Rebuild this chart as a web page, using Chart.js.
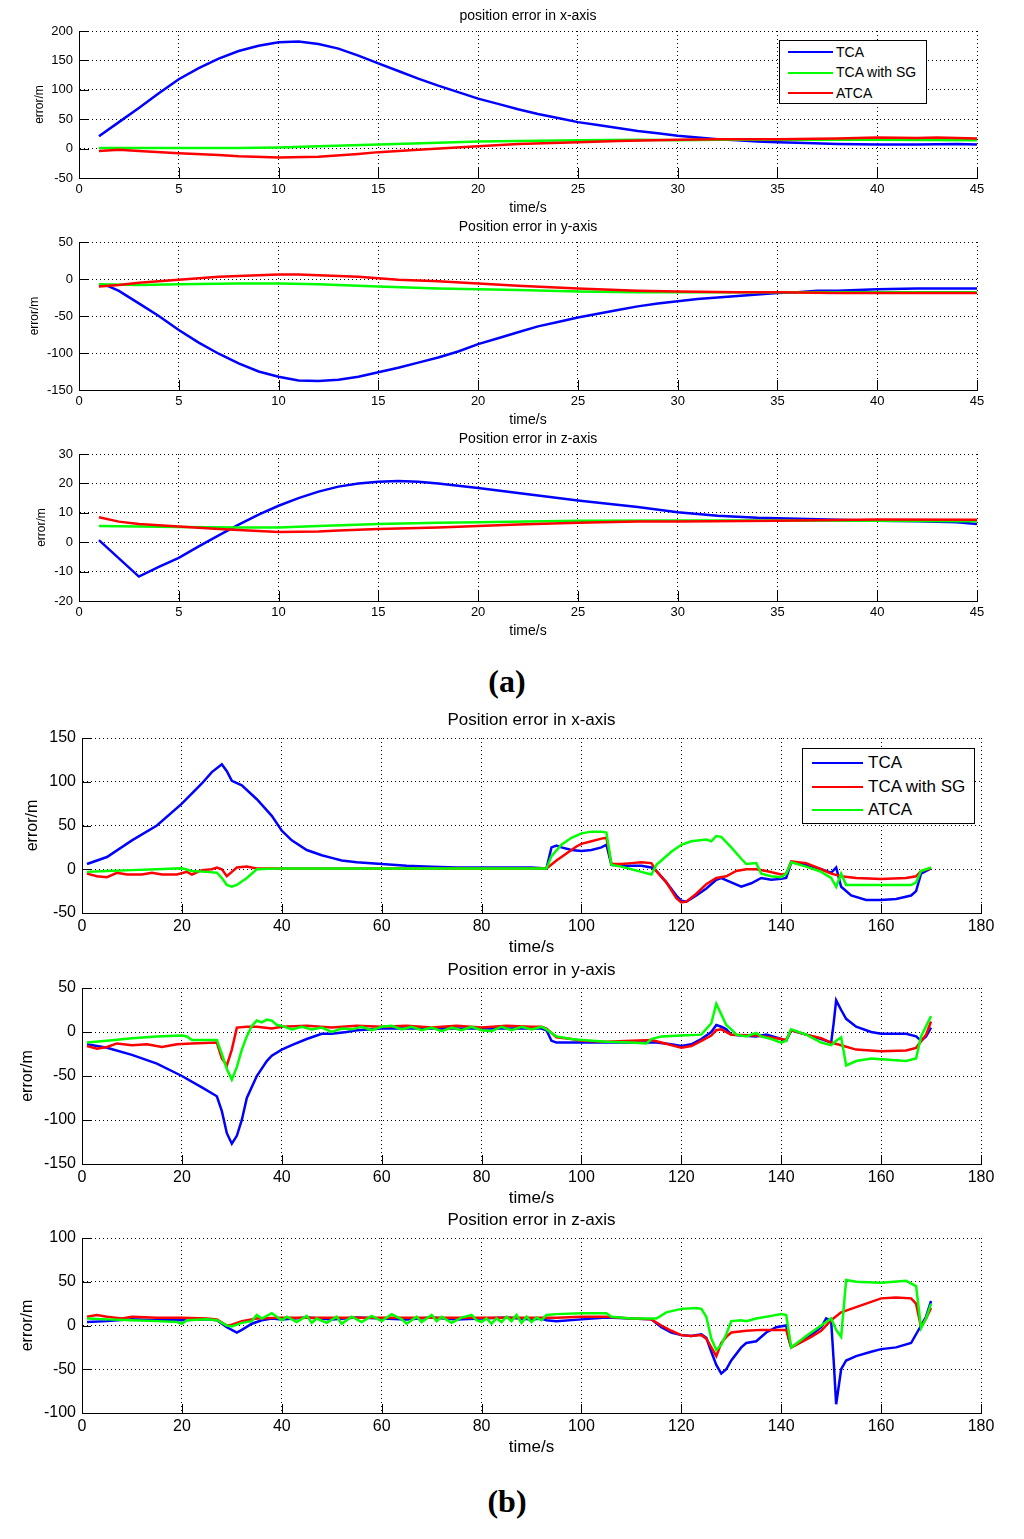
<!DOCTYPE html>
<html>
<head>
    <meta charset="utf-8">
    <title>Position error</title>
    <script src="https://cdn.jsdelivr.net/npm/chart.js@4.4.0/dist/chart.umd.min.js"></script>
    <style>
        body {
            margin: 0;
            width: 1024px;
            height: 1539px;
            position: relative;
            overflow: hidden;
            background: #fff;
            font-family: "Liberation Sans", Arial, sans-serif;
        }
        canvas {
            position: absolute;
            left: 0;
        }
        .legend {
            position: absolute;
            background: #fff;
            border: 1px solid #000;
            box-sizing: border-box;
            z-index: 5;
        }
        .legend .swatch {
            position: absolute;
            height: 2px;
        }
        .legend .txt {
            position: absolute;
            color: #000;
            white-space: nowrap;
        }
        .panel-label {
            position: absolute;
            left: 0;
            width: 1014px;
            text-align: center;
            font-family: "Liberation Serif", "Times New Roman", serif;
            font-weight: bold;
            font-size: 32px;
        }
    </style>
</head>
<body>
    <div class="legend" id="legendA" style="left:779px;top:40px;width:148px;height:64px;font-size:14px"></div>
    <div class="legend" id="legendB" style="left:802px;top:748px;width:173px;height:76px;font-size:17px"></div>
    <div class="panel-label" style="top:663px">(a)</div>
    <div class="panel-label" style="top:1483px">(b)</div>

<script>
// series names and colours, panel (a) and panel (b) use different colour order
const namesA = ['TCA', 'TCA with SG', 'ATCA'];
const colorsA = ['#0000ff', '#00ff00', '#ff0000'];
const namesB = ['TCA', 'TCA with SG', 'ATCA'];
const colorsB = ['#0000ff', '#ff0000', '#00ff00'];

const titlesA = ['position error in x-axis', 'Position error in y-axis', 'Position error in z-axis'];
const titlesB = ['Position error in x-axis', 'Position error in y-axis', 'Position error in z-axis'];

// ---- panel (a): [time, error] ----
const aX_TCA = [[1,21],[2,45],[3,69],[4,94],[5,118],[6,137],[7,153],[8,166],[9,175],[10,181],[11,182],[12,178],[13,170],[14,158],[15,145],[16,132],[17,119],[18,107],[19,96],[20,85],[21,76],[22,67],[23,59],[24,52],[25,45],[26,40],[27,35],[28,30],[29,26],[30,22],[31,19],[32,16],[33,14],[34,12],[35,11],[36,10],[38,8],[40,7],[42,7],[44,8],[45,7]];
const aX_SG = [[1,1],[3,1],[5,1],[8,1],[10,2],[12,4],[15,7],[18,10],[20,12],[22,13],[25,14],[28,15],[30,14],[32,15],[35,15],[40,15],[45,14]];
const aX_ATCA = [[1,-4],[2,-2],[3,-4],[5,-8],[7,-11],[8,-13],[10,-15],[12,-14],[14,-9],[15,-6],[17,-2],[20,4],[22,8],[25,11],[27,13],[30,15],[32,16],[35,16],[38,17],[40,19],[42,18],[43,19],[45,17]];

const aY_TCA = [[1,-7],[1.5,-10],[2,-16],[3,-33],[4,-50],[5,-69],[6,-86],[7,-101],[8,-114],[9,-125],[10,-132],[11,-137],[12,-138],[13,-136],[14,-132],[15,-126],[16,-120],[17,-113],[18,-106],[19,-98],[20,-88],[21,-80],[22,-72],[23,-64],[24,-58],[25,-52],[26,-47],[27,-42],[28,-37],[29,-33],[30,-30],[31,-27],[32,-25],[33,-23],[34,-21],[35,-19],[36,-18],[37,-16],[38,-16],[40,-14],[42,-13],[45,-13]];
const aY_SG = [[1,-7],[3,-8],[5,-7],[8,-6],[10,-6],[12,-7],[15,-10],[18,-13],[20,-14],[22,-15],[25,-17],[28,-18],[30,-18],[35,-18],[40,-18],[45,-18]];
const aY_ATCA = [[1,-10],[2,-8],[3,-5],[4,-3],[5,-1],[6,1],[7,3],[8,4],[9,5],[10,6],[11,6],[12,5],[13,4],[14,3],[15,1],[16,-1],[18,-3],[20,-6],[22,-9],[25,-13],[28,-16],[30,-17],[33,-18],[35,-18],[38,-19],[40,-19],[45,-19]];

const aZ_TCA = [[1,0.7],[3,-11.7],[4,-8.4],[5,-5.3],[6,-1.4],[7,2.3],[8,6],[9,9.4],[10,12.4],[11,15],[12,17.2],[13,18.9],[14,20],[15,20.6],[16,20.8],[17,20.6],[18,20],[19,19.2],[20,18.4],[22,16.7],[25,14.2],[28,12],[30,10.2],[32,9],[34,8.3],[36,8],[38,7.6],[40,7.3],[42,7.1],[44,6.8],[45,6.2]];
const aZ_SG = [[1,5.5],[3,5.3],[5,5.2],[8,5],[10,5],[12,5.5],[15,6.2],[18,6.6],[20,6.8],[25,7.3],[30,7.4],[35,7.4],[40,7.3],[45,7.1]];
const aZ_ATCA = [[1,8.5],[2,7],[3,6.2],[5,5.3],[7,4.5],[9,3.8],[10,3.5],[12,3.6],[13,4],[15,4.5],[18,5],[20,5.5],[22,6],[25,6.6],[28,7],[30,7],[35,7.3],[40,7.7],[45,7.6]];

// ---- panel (b): [time, error] ----
const bX_TCA = [[1,6],[5,14],[10,33],[15,50],[20,75],[24,98],[26,111],[28,120],[29,112],[30,101],[32,96],[35,80],[38,61],[40,44],[42,33],[45,22],[48,16],[50,13],[52,10],[55,8],[60,6],[65,4],[70,3],[75,2],[80,2],[85,2],[90,2],[93,1],[94,25],[95,27],[96,25],[98,22],[100,21],[102,22],[104,25],[105,28],[106,5],[108,4],[112,4],[114,2],[115,-2],[117,-15],[119,-30],[120,-36],[121,-37],[123,-30],[125,-22],[127,-12],[128,-10],[130,-15],[132,-20],[134,-16],[136,-10],[138,-12],[140,-11],[141,-10],[142,8],[145,5],[148,0],[150,-4],[151,2],[152,-20],[154,-30],[157,-35],[160,-35],[163,-34],[166,-30],[167,-25],[168,-5],[170,1]];
const bX_SG = [[1,-5],[3,-8],[5,-9],[7,-4],[9,-6],[12,-6],[14,-4],[16,-6],[19,-6],[21,-3],[22,-6],[24,-1],[26,0],[27,2],[28,0],[29,-8],[30,-3],[31,2],[33,3],[35,1],[40,1],[50,1],[60,1],[70,1],[80,1],[93,1],[95,10],[97,18],[99,26],[100,29],[102,32],[104,35],[105,36],[106,6],[108,6],[110,7],[112,8],[114,7],[115,-2],[117,-15],[119,-33],[120,-38],[121,-37],[123,-28],[125,-17],[127,-10],[129,-8],[131,-2],[133,0],[135,0],[137,-2],[140,-6],[141,-5],[142,9],[145,7],[148,0],[150,-5],[152,-8],[155,-10],[160,-11],[165,-10],[167,-8],[168,-2],[170,1]];
const bX_ATCA = [[1,-3],[5,-2],[10,-1],[15,0],[20,1],[22,-2],[25,-3],[27,-4],[28,-10],[29,-18],[30,-20],[31,-18],[33,-10],[35,0],[40,1],[50,1],[60,1],[70,1],[80,1],[93,1],[94,15],[96,28],[98,36],[100,41],[102,43],[104,43],[105,42],[106,5],[108,3],[110,0],[112,-3],[114,-6],[115,5],[116,10],[118,20],[120,28],[122,32],[125,34],[126,32],[127,38],[128,37],[130,25],[132,12],[133,6],[135,7],[136,-5],[138,-8],[140,-9],[141,-5],[142,8],[145,3],[148,-3],[150,-10],[151,-20],[152,-5],[153,-18],[155,-18],[160,-18],[166,-18],[167,-15],[168,-2],[170,2]];

const bY_TCA = [[1,-14],[3,-16],[5,-18],[10,-26],[15,-36],[20,-50],[24,-63],[27,-73],[28,-90],[29,-115],[30,-127],[31,-118],[32,-100],[33,-75],[35,-50],[37,-33],[38,-27],[40,-20],[42,-15],[45,-8],[48,-2],[50,-2],[53,0],[55,2],[58,3],[60,4],[70,4],[80,4],[90,4],[92,4],[93,2],[94,-10],[95,-12],[100,-12],[110,-12],[115,-12],[118,-14],[120,-16],[122,-14],[124,-8],[126,0],[127,8],[128,6],[129,3],[130,-3],[132,-4],[135,-5],[137,-3],[140,-8],[141,-10],[142,2],[145,-3],[148,-8],[150,-12],[150.5,10],[151,36],[152,25],[153,15],[155,6],[158,0],[160,-2],[165,-2],[167,-5],[168,-10],[169,-5],[170,5]];
const bY_SG = [[1,-16],[3,-19],[5,-17],[7,-13],[10,-15],[13,-14],[16,-17],[19,-14],[22,-13],[27,-12],[28,-30],[29,-38],[30,-20],[31,5],[33,6],[35,6],[38,4],[40,6],[45,7],[50,5],[55,7],[60,6],[65,7],[70,5],[75,7],[80,5],[85,7],[90,6],[92,6],[93,4],[95,-6],[98,-8],[100,-10],[105,-11],[110,-10],[114,-9],[116,-12],[120,-18],[122,-16],[124,-10],[126,-4],[127,2],[128,3],[130,-3],[135,-4],[140,-8],[141,-9],[142,2],[145,-3],[148,-7],[150,-12],[152,-15],[155,-20],[160,-22],[165,-21],[167,-18],[169,-3],[170,12]];
const bY_ATCA = [[1,-12],[5,-10],[10,-7],[15,-5],[20,-4],[21,-5],[22,-9],[27,-9],[28,-25],[29,-42],[30,-54],[31,-40],[32,-20],[33,-5],[34,7],[35,13],[36,11],[37,14],[38,13],[39,8],[40,7],[42,3],[44,6],[46,3],[48,5],[50,0],[52,4],[54,3],[56,6],[58,2],[60,6],[62,7],[64,3],[66,6],[68,2],[70,5],[72,1],[74,5],[76,2],[78,6],[80,2],[82,1],[84,6],[86,2],[88,6],[90,3],[92,6],[93,3],[95,-5],[98,-8],[100,-9],[105,-11],[110,-12],[113,-13],[114,-8],[116,-5],[120,-4],[124,-3],[126,10],[127,32],[128,20],[129,8],[130,3],[131,-3],[133,-5],[135,-1],[136,-5],[138,-8],[140,-12],[141,-10],[142,3],[145,-3],[148,-12],[150,-15],[151,-10],[152,-6],[153,-38],[155,-33],[158,-30],[160,-31],[165,-33],[167,-30],[168,-5],[170,18]];

const bZ_TCA = [[1,4],[5,5],[10,7],[15,6],[20,6],[25,7],[27,6],[29,-2],[30,-5],[31,-8],[32,-5],[34,2],[36,6],[38,8],[40,7],[45,9],[50,7],[55,9],[60,8],[65,7],[70,9],[75,7],[80,8],[85,9],[90,7],[92,8],[93,6],[95,5],[100,7],[105,9],[110,8],[114,7],[116,-2],[118,-8],[120,-11],[122,-12],[124,-10],[125,-14],[126,-30],[127,-45],[128,-55],[129,-50],[130,-40],[132,-25],[133,-20],[135,-18],[137,-8],[139,-2],[141,0],[141.5,-15],[142,-25],[145,-15],[148,-2],[149,8],[150,5],[150.5,-40],[151,-90],[152,-50],[153,-40],[155,-35],[158,-30],[160,-27],[163,-25],[166,-20],[167,-10],[168,0],[169,10],[170,28]];
const bZ_SG = [[1,10],[3,12],[5,10],[8,8],[10,10],[15,9],[20,9],[25,8],[27,7],[29,0],[30,1],[32,5],[35,8],[40,9],[50,9],[60,9],[70,9],[80,9],[92,9],[95,9],[100,10],[105,10],[110,8],[114,7],[116,0],[118,-6],[120,-11],[122,-12],[124,-11],[125,-15],[126,-25],[127,-35],[128,-20],[129,-13],[130,-8],[133,-6],[136,-5],[140,-5],[141,-5],[142,-25],[146,-13],[148,-6],[150,6],[152,15],[155,21],[160,31],[163,32],[166,31],[167,25],[168,-2],[169,8],[170,20]];
const bZ_ATCA = [[1,8],[5,7],[10,6],[15,5],[19,4],[20,2],[21,6],[25,7],[27,6],[29,0],[30,-1],[32,3],[34,5],[35,12],[36,8],[38,14],[39,10],[40,6],[41,10],[43,4],[45,11],[46,3],[47,8],[49,3],[51,10],[52,2],[54,10],[56,4],[58,11],[60,5],[62,13],[64,7],[65,2],[67,10],[68,4],[70,12],[71,5],[72,10],[74,3],[76,9],[78,12],[79,6],[80,4],[81,8],[82,2],[83,8],[84,4],[85,10],[86,5],[87,12],[88,3],[89,10],[90,4],[91,9],[92,6],[93,12],[95,13],[100,14],[105,14],[106,10],[110,8],[115,8],[117,15],[120,19],[123,20],[124,19],[125,10],[126,-15],[127,-28],[128,-22],[129,-10],[130,5],[132,6],[133,5],[135,8],[138,11],[140,13],[141,12],[142,-25],[145,-12],[148,0],[150,8],[151,-5],[152,-13],[153,52],[155,50],[160,49],[165,51],[167,45],[168,-3],[169,8],[170,25]];

// layout of the six axes boxes (pixels in the page)
const styleA = {left: 79, right: 977, xmax: 45, xstep: 5, titleSize: 14, tickSize: 13, xTitleSize: 14, yTitleSize: 12, tickLen: 10, titleBox: 24, xH: 38, xTitleBelow: 30};
const styleB = {left: 82, right: 981, xmax: 180, xstep: 20, titleSize: 17, tickSize: 16, xTitleSize: 17, yTitleSize: 16, tickLen: 9, titleBox: 28, xH: 44, xTitleBelow: 34};

const plots = [
    {s: styleA, title: titlesA[0], names: namesA, colors: colorsA, series: [aX_TCA, aX_SG, aX_ATCA], top: 31, bottom: 178, ymin: -50, ymax: 200, ystep: 50, yTitleX: 40},
    {s: styleA, title: titlesA[1], names: namesA, colors: colorsA, series: [aY_TCA, aY_SG, aY_ATCA], top: 242, bottom: 390, ymin: -150, ymax: 50, ystep: 50, yTitleX: 35},
    {s: styleA, title: titlesA[2], names: namesA, colors: colorsA, series: [aZ_TCA, aZ_SG, aZ_ATCA], top: 454, bottom: 601, ymin: -20, ymax: 30, ystep: 10, yTitleX: 42},
    {s: styleB, title: titlesB[0], names: namesB, colors: colorsB, series: [bX_TCA, bX_SG, bX_ATCA], top: 738, bottom: 913, ymin: -50, ymax: 150, ystep: 50, yTitleX: 33},
    {s: styleB, title: titlesB[1], names: namesB, colors: colorsB, series: [bY_TCA, bY_SG, bY_ATCA], top: 988, bottom: 1164, ymin: -150, ymax: 50, ystep: 50, yTitleX: 28},
    {s: styleB, title: titlesB[2], names: namesB, colors: colorsB, series: [bZ_TCA, bZ_SG, bZ_ATCA], top: 1238, bottom: 1413, ymin: -100, ymax: 100, ystep: 50, yTitleX: 28}
];

const FONT = '"Liberation Sans", Arial, sans-serif';

// matlab style tick marks pointing into the axes
const innerTicks = {
    id: 'innerTicks',
    afterDraw(chart, args, opts) {
        const {ctx, chartArea, scales} = chart;
        ctx.save();
        ctx.strokeStyle = '#000';
        ctx.lineWidth = 1;
        ctx.beginPath();
        scales.x.ticks.forEach(t => {
            const px = Math.round(scales.x.getPixelForValue(t.value)) + 0.5;
            ctx.moveTo(px, chartArea.bottom);
            ctx.lineTo(px, chartArea.bottom - opts.len);
        });
        scales.y.ticks.forEach(t => {
            const py = Math.round(scales.y.getPixelForValue(t.value)) + 0.5;
            ctx.moveTo(chartArea.left, py);
            ctx.lineTo(chartArea.left + opts.len, py);
        });
        ctx.stroke();
        ctx.restore();
    }
};

function makePlot(p) {
    const s = p.s;
    const canvas = document.createElement('canvas');
    const h = s.titleBox + (p.bottom - p.top) + s.xH;
    canvas.width = 1024;
    canvas.height = h;
    canvas.style.top = (p.top - s.titleBox) + 'px';
    document.body.appendChild(canvas);

    const datasets = p.series.map((ser, i) => ({
        label: p.names[i],
        data: ser.map(pt => ({x: pt[0], y: pt[1]})),
        borderColor: p.colors[i],
        backgroundColor: p.colors[i],
        borderWidth: 2.5,
        pointRadius: 0,
        tension: 0,
        order: 2 - i
    }));

    new Chart(canvas, {
        type: 'line',
        data: {datasets: datasets},
        options: {
            responsive: false,
            animation: false,
            devicePixelRatio: 1,
            layout: {padding: {left: 0, right: 1024 - s.right, top: 0, bottom: 0}},
            plugins: {
                legend: {display: false},
                tooltip: {enabled: false},
                title: {
                    display: true,
                    fullSize: false,
                    text: p.title,
                    color: '#000',
                    font: {family: FONT, size: s.titleSize, weight: 'normal', lineHeight: 1},
                    padding: {top: 2, bottom: s.titleBox - 2 - s.titleSize}
                },
                innerTicks: {len: s.tickLen}
            },
            scales: {
                x: {
                    type: 'linear',
                    min: 0,
                    max: s.xmax,
                    ticks: {stepSize: s.xstep, color: '#000', font: {family: FONT, size: s.tickSize}, padding: 4, maxRotation: 0, autoSkip: false},
                    grid: {color: '#000', lineWidth: 1, drawTicks: false},
                    border: {display: true, color: '#000', width: 1, dash: [1, 3]},
                    title: {display: true, text: 'time/s', color: '#000', font: {family: FONT, size: s.xTitleSize, lineHeight: 1}, padding: {top: 0, bottom: s.xH - s.xTitleBelow - s.xTitleSize / 2}},
                    afterFit(scale) { scale.height = s.xH; }
                },
                y: {
                    min: p.ymin,
                    max: p.ymax,
                    ticks: {stepSize: p.ystep, color: '#000', font: {family: FONT, size: s.tickSize}, padding: 6, autoSkip: false},
                    grid: {color: '#000', lineWidth: 1, drawTicks: false},
                    border: {display: true, color: '#000', width: 1, dash: [1, 3]},
                    title: {display: true, text: 'error/m', color: '#000', font: {family: FONT, size: s.yTitleSize, lineHeight: 1}, padding: {top: p.yTitleX - s.yTitleSize / 2, bottom: 0}},
                    afterFit(scale) { scale.width = s.left; }
                }
            }
        },
        plugins: [innerTicks]
    });
}

plots.forEach(makePlot);

// legends as boxes in the first axes of each panel
function makeLegend(id, names, colors, opt) {
    const box = document.getElementById(id);
    names.forEach((n, i) => {
        const cy = opt.first + i * opt.gap;
        const sw = document.createElement('div');
        sw.className = 'swatch';
        sw.style.left = opt.swLeft + 'px';
        sw.style.width = opt.swWidth + 'px';
        sw.style.top = (cy - 1) + 'px';
        sw.style.background = colors[i];
        box.appendChild(sw);
        const tx = document.createElement('div');
        tx.className = 'txt';
        tx.textContent = n;
        tx.style.left = opt.txLeft + 'px';
        tx.style.top = (cy - opt.fs * 0.58) + 'px';
        tx.style.lineHeight = '1.15';
        box.appendChild(tx);
    });
}
makeLegend('legendA', namesA, colorsA, {first: 11, gap: 20.5, swLeft: 8, swWidth: 45, txLeft: 56, fs: 14});
makeLegend('legendB', namesB, colorsB, {first: 14, gap: 23.5, swLeft: 9, swWidth: 51, txLeft: 65, fs: 17});
</script>
</body>
</html>
